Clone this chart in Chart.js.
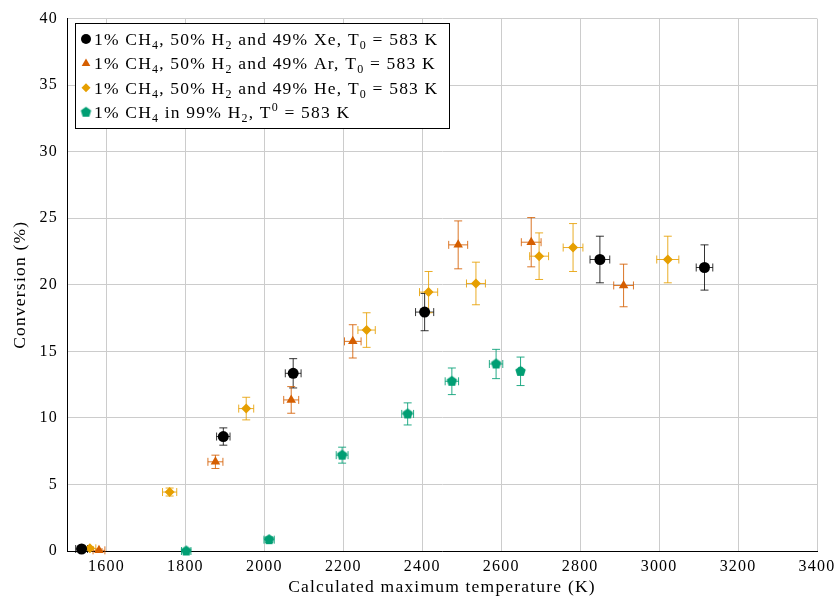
<!DOCTYPE html>
<html>
<head>
<meta charset="utf-8">
<script src="https://cdn.jsdelivr.net/npm/chart.js@4.4.0/dist/chart.umd.min.js"></script>
<style>
  html, body { margin: 0; padding: 0; background: #fff; }
</style>
</head>
<body>
<canvas id="myChart" width="839" height="598"></canvas>
<script>

// data
var xeTemp = [1537, 1896, 2073, 2406, 2850, 3115];
var xeConv = [0.15, 8.6, 13.35, 17.95, 21.9, 21.3];
var xeTempErr = [15, 17, 20, 23, 25, 21];
var xeConvErr = [0.1, 0.65, 1.1, 1.4, 1.75, 1.7];

var arTemp = [1581, 1876, 2068, 2224, 2491, 2676, 2910];
var arConv = [0.05, 6.7, 11.35, 15.75, 23.0, 23.2, 19.95];
var arTempErr = [15, 19, 19, 21, 24, 25, 25];
var arConvErr = [0.1, 0.5, 1.0, 1.25, 1.8, 1.85, 1.6];

var heTemp = [1558, 1760, 1954, 2259, 2416, 2536, 2696, 2782, 3022];
var heConv = [0.2, 4.43, 10.7, 16.6, 19.45, 20.1, 22.15, 22.8, 21.9];
var heTempErr = [15, 18, 19, 22, 23, 24, 24, 25, 28];
var heConvErr = [0.1, 0.3, 0.85, 1.3, 1.55, 1.6, 1.75, 1.8, 1.75];

var h2Temp = [1802, 2012, 2197, 2363, 2475, 2587, 2649];
var h2Conv = [0, 0.85, 7.2, 10.3, 12.75, 14.05, 13.5];
var h2TempErr = [12, 13, 15, 15, 17, 17, 5];
var h2ConvErr = [0.05, 0.2, 0.6, 0.83, 1.0, 1.1, 1.07];

var seriesLabels = [
  '1% CH_4, 50% H_2 and 49% Xe, T_0 = 583 K',
  '1% CH_4, 50% H_2 and 49% Ar, T_0 = 583 K',
  '1% CH_4, 50% H_2 and 49% He, T_0 = 583 K',
  '1% CH_4 in 99% H_2, T^0 = 583 K'
];

var xTicks = [1600, 1800, 2000, 2200, 2400, 2600, 2800, 3000, 3200, 3400];

var fontFamily = "'Liberation Serif', 'Times New Roman', serif";

function points(xs, ys) {
  var out = [];
  for (var i = 0; i < xs.length; i++) {
    out.push({x: xs[i], y: ys[i]});
  }
  return out;
}

function pentagon(color, r) {
  var c = document.createElement('canvas');
  var s = Math.ceil(2 * r + 2);
  c.width = s;
  c.height = s;
  var g = c.getContext('2d');
  g.fillStyle = color;
  g.beginPath();
  for (var k = 0; k < 5; k++) {
    var a = -Math.PI / 2 + k * 2 * Math.PI / 5;
    g.lineTo(s / 2 + r * Math.cos(a), s / 2 + r * Math.sin(a));
  }
  g.closePath();
  g.fill();
  return c;
}

// wider letter spacing, closer to the LaTeX font widths
var spacing = {
  id: 'spacing',
  beforeDraw: function(chart) {
    chart.ctx.letterSpacing = '1.2px';
  }
};

// draws x and y error bars under the markers
var errorBars = {
  id: 'errorBars',
  beforeDatasetsDraw: function(chart) {
    var ctx = chart.ctx;
    var xs = chart.scales.x;
    var ys = chart.scales.y;
    var cap = 4;

    chart.data.datasets.forEach(function(ds) {
      ctx.save();
      ctx.strokeStyle = ds.errColor;
      ctx.lineWidth = 1;
      ds.data.forEach(function(p, i) {
        var px = xs.getPixelForValue(p.x);
        var py = ys.getPixelForValue(p.y);
        var yTop = ys.getPixelForValue(p.y + ds.yErr[i]);
        var yBot = ys.getPixelForValue(p.y - ds.yErr[i]);
        var xL = xs.getPixelForValue(p.x - ds.xErr[i]);
        var xR = xs.getPixelForValue(p.x + ds.xErr[i]);
        ctx.beginPath();
        ctx.moveTo(px, yTop); ctx.lineTo(px, yBot);
        ctx.moveTo(px - cap, yTop); ctx.lineTo(px + cap, yTop);
        ctx.moveTo(px - cap, yBot); ctx.lineTo(px + cap, yBot);
        ctx.moveTo(xL, py); ctx.lineTo(xR, py);
        ctx.moveTo(xL, py - cap); ctx.lineTo(xL, py + cap);
        ctx.moveTo(xR, py - cap); ctx.lineTo(xR, py + cap);
        ctx.stroke();
      });
      ctx.restore();
    });
  }
};

function drawRich(ctx, text, x, y, size) {
  var parts = text.split(/([_^]\w)/);
  parts.forEach(function(part) {
    if (!part) return;
    if (part[0] === '_' || part[0] === '^') {
      var small = Math.round(size * 0.7);
      ctx.font = small + 'px ' + fontFamily;
      var dy = part[0] === '_' ? 4 : -7;
      ctx.fillText(part[1], x, y + dy);
      x += ctx.measureText(part[1]).width;
    } else {
      ctx.font = size + 'px ' + fontFamily;
      ctx.fillText(part, x, y);
      x += ctx.measureText(part).width;
    }
  });
}

// legend box in the top left of the plot
var boxLegend = {
  id: 'boxLegend',
  afterDraw: function(chart) {
    var ctx = chart.ctx;
    var left = 75.5, top = 23.5, w = 374, h = 105;
    ctx.save();
    ctx.fillStyle = '#fff';
    ctx.fillRect(left, top, w, h);
    ctx.strokeStyle = '#000';
    ctx.lineWidth = 1;
    ctx.strokeRect(left, top, w, h);

    chart.data.datasets.forEach(function(ds, i) {
      var rowY = 39 + i * 24.4;
      ctx.fillStyle = ds.backgroundColor;
      ctx.strokeStyle = ds.borderColor;
      Chart.helpers.drawPoint(ctx, {pointStyle: ds.pointStyle, radius: ds.legendRadius, borderWidth: 0, rotation: 0}, 86, rowY);
      ctx.fillStyle = '#000';
      ctx.textBaseline = 'alphabetic';
      drawRich(ctx, ds.label, 94, rowY + 6, 17.5);
    });
    ctx.restore();
  }
};

function init() {

  var ctx = document.getElementById('myChart').getContext('2d');
  Chart.defaults.font.family = fontFamily;
  Chart.defaults.font.size = 17;
  Chart.defaults.color = '#000';

  var chart = new Chart(ctx, {
    type: 'scatter',
    data: {
      datasets: [{
        label: seriesLabels[0],
        data: points(xeTemp, xeConv),
        xErr: xeTempErr, yErr: xeConvErr,
        backgroundColor: '#000000', borderColor: '#000000',
        errColor: 'rgba(0,0,0,0.8)',
        pointStyle: 'circle', pointRadius: 5.5, legendRadius: 5
      }, {
        label: seriesLabels[1],
        data: points(arTemp, arConv),
        xErr: arTempErr, yErr: arConvErr,
        backgroundColor: '#D55E00', borderColor: '#D55E00',
        errColor: 'rgba(213,94,0,0.85)',
        pointStyle: 'triangle', pointRadius: 5.5, legendRadius: 5
      }, {
        label: seriesLabels[2],
        data: points(heTemp, heConv),
        xErr: heTempErr, yErr: heConvErr,
        backgroundColor: '#E69F00', borderColor: '#E69F00',
        errColor: 'rgba(230,159,0,0.85)',
        pointStyle: 'rectRot', pointRadius: 5, legendRadius: 4.5
      }, {
        label: seriesLabels[3],
        data: points(h2Temp, h2Conv),
        xErr: h2TempErr, yErr: h2ConvErr,
        backgroundColor: '#009E73', borderColor: '#009E73',
        errColor: 'rgba(0,158,115,0.85)',
        pointStyle: pentagon('#009E73', 5.5), pointRadius: 5.5, legendRadius: 5
      }]
    },
    options: {
      responsive: false,
      devicePixelRatio: 1,
      animation: false,
      layout: { padding: { left: 0, right: 19, top: 18, bottom: 0 } },
      elements: { point: { borderWidth: 0, hoverRadius: 5.5 } },
      datasets: { scatter: { clip: false } },
      plugins: {
        legend: { display: false },
        tooltip: { enabled: false }
      },
      scales: {
        x: {
          type: 'linear',
          min: 1500,
          max: 3400,
          afterBuildTicks: function(scale) {
            scale.ticks = xTicks.map(function(v) { return {value: v}; });
          },
          afterFit: function(scale) { scale.height = 47; },
          grid: { color: '#cccccc', drawTicks: false },
          border: { color: '#000', width: 1 },
          ticks: {
            padding: 6,
            font: { size: 16 },
            callback: function(v) { return String(v); }
          },
          title: {
            display: true,
            text: 'Calculated maximum temperature (K)',
            font: { size: 17.5 },
            padding: { top: 0, bottom: 0 }
          }
        },
        y: {
          min: 0,
          max: 40,
          ticks: { stepSize: 5, padding: 9, font: { size: 16 } },
          afterFit: function(scale) { scale.width = 67; },
          grid: { color: '#cccccc', drawTicks: false },
          border: { color: '#000', width: 1 },
          title: {
            display: true,
            text: 'Conversion (%)',
            font: { size: 17.5 },
            padding: { top: 10, bottom: 0 }
          }
        }
      }
    },
    plugins: [spacing, errorBars, boxLegend]
  });
}

init();
</script>
</body>
</html>
